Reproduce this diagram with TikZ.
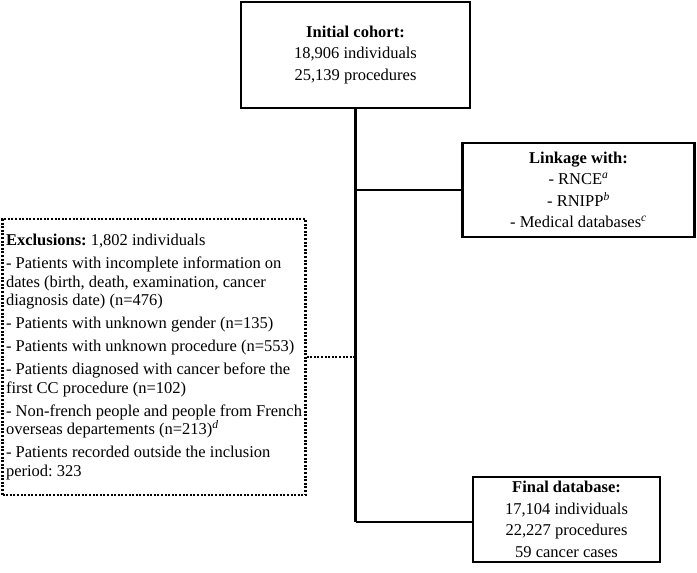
\documentclass[tikz,border=0pt]{standalone}
\usepackage{fontspec}
\setmainfont{Liberation Serif}
\frenchspacing
\begin{document}
\begin{tikzpicture}[x=1pt,y=-1pt,
  box/.style={draw, line width=2.5pt, align=center, inner sep=0pt},
  dotbox/.style={draw, line width=2.3pt, dash pattern=on 2pt off 1.6pt, align=left, inner xsep=-1pt, inner ysep=0pt},
  conn/.style={line width=2pt},
  dotconn/.style={line width=2.3pt, dash pattern=on 2pt off 1.6pt},
  bigtext/.style={font=\fontsize{16.5}{21.5}\selectfont},
  midtext/.style={font=\fontsize{16.5}{21.5}\selectfont},
  exctext/.style={font=\fontsize{16.5}{18.5}\selectfont}]
\useasboundingbox (0,0) rectangle (697,573);
\node[box, bigtext, line width=2.8pt, minimum width=229pt, minimum height=106pt] (init) at (355.5,55)
  {\textbf{Initial cohort:}\\18,906 individuals\\25,139 procedures};
\node[box, midtext, minimum width=232pt, minimum height=94pt] (link) at (578.5,190)
  {\textbf{Linkage with:}\\- RNCE\textsuperscript{\textit{a}}\\- RNIPP\textsuperscript{\textit{b}}\\- Medical databases\textsuperscript{\textit{c}}};
\node[box, midtext, line width=2.2pt, minimum width=187pt, minimum height=85pt] (final) at (566.5,519.5)
  {\textbf{Final database:}\\17,104 individuals\\22,227 procedures\\59 cancer cases};
\node[dotbox, exctext, minimum width=303pt, minimum height=276pt] (excl) at (154,357)
  {\textbf{Exclusions:} 1,802 individuals\\[4.5pt]
   - Patients with incomplete information on\\
   dates (birth, death, examination, cancer\\
   diagnosis date) (n=476)\\[4.5pt]
   - Patients with unknown gender (n=135)\\[4.5pt]
   - Patients with unknown procedure (n=553)\\[4.5pt]
   - Patients diagnosed with cancer before the\\
   first CC procedure (n=102)\\[4.5pt]
   - Non-french people and people from French\\
   overseas departements (n=213)\textsuperscript{\textit{d}}\\[4.5pt]
   - Patients recorded outside the inclusion\\
   period: 323};
\coordinate (vlink) at (init.south |- link.west);
\coordinate (vexcl) at (init.south |- excl.east);
\coordinate (vfinal) at (init.south |- 0,522);
\draw[conn, line width=2.5pt] (init.south) -- (vfinal);
\draw[conn] (vfinal) -- (final.west |- vfinal);
\draw[conn, line width=1.5pt] (vlink) -- (link.west);
\draw[dotconn] (excl.east) -- (vexcl);
\end{tikzpicture}
\end{document}
